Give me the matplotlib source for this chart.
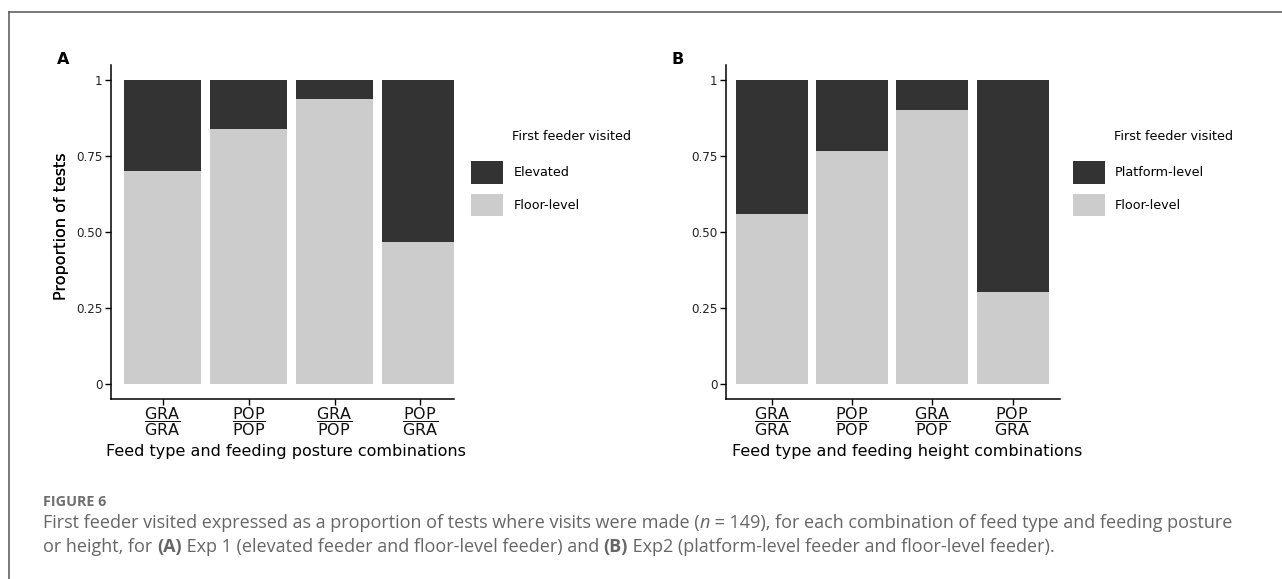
import matplotlib
matplotlib.use("Agg")
import matplotlib.pyplot as plt
from matplotlib.patches import Patch
from matplotlib.lines import Line2D
from matplotlib.text import Annotation

# ---------------- data ----------------
num_labels = ["GRA", "POP", "GRA", "POP"]
den_labels = ["GRA", "POP", "POP", "GRA"]
positions = [1, 2, 3, 4]

floor_A = [0.700, 0.838, 0.937, 0.468]
elevated_A = [0.300, 0.162, 0.063, 0.532]

floor_B = [0.559, 0.765, 0.900, 0.301]
platform_B = [0.441, 0.235, 0.100, 0.699]

ytick_vals = [0, 0.25, 0.50, 0.75, 1]
ytick_text = ["0", "0.25", "0.50", "0.75", "1"]

DARK = "#333333"
LIGHT = "#cccccc"

plt.rcParams["font.family"] = ["DejaVu Sans"]
plt.rcParams["mathtext.fontset"] = "dejavusans"

W, H = 1282, 579
fig = plt.figure(figsize=(W / 100, H / 100), dpi=100)


def fx(px):
    return px / W


def fy(py):
    return 1 - py / H


def make_panel(x0, x1, xlim, floor, top, top_name, xlabel, letter, letter_x,
               leg_x, xlabel_cx):
    y_top, y_bot = 64.8, 399.2
    ax = fig.add_axes([fx(x0), fy(y_bot), fx(x1 - x0), (y_bot - y_top) / H])
    ax.bar(positions, floor, width=0.9, color=LIGHT, linewidth=0)
    ax.bar(positions, top, width=0.9, bottom=floor, color=DARK, linewidth=0)
    ax.set_xlim(*xlim)
    ax.set_ylim(-0.05, 1.05)
    for s in ["top", "right"]:
        ax.spines[s].set_visible(False)
    for s in ["left", "bottom"]:
        ax.spines[s].set_linewidth(1.1)
        ax.spines[s].set_color("black")
    ax.set_yticks(ytick_vals)
    ax.set_yticklabels(ytick_text)
    ax.set_xticks(positions)
    ax.set_xticklabels([r"$\dfrac{\mathregular{%s}}{\mathregular{%s}}$" % (n, d)
                        for n, d in zip(num_labels, den_labels)])
    ax.tick_params(axis="y", length=4, width=1, pad=2, labelsize=8.6,
                   labelcolor="#222222")
    ax.tick_params(axis="x", length=4, width=1, pad=0, labelsize=11.5,
                   labelcolor="#111111")
    ax.set_ylabel("Proportion of tests", fontsize=11.5)
    ax.yaxis.set_label_coords((69 - x0) / (x1 - x0), 0.516)
    ax.set_xlabel(xlabel, fontsize=11.5)
    ax.xaxis.set_label_coords((xlabel_cx - x0) / (x1 - x0), -0.134)

    fig.text(fx(letter_x), fy(60), letter, fontsize=11.5, fontweight="bold",
             ha="left", va="center")

    handles = [Patch(facecolor=DARK, edgecolor="none"),
               Patch(facecolor=LIGHT, edgecolor="none")]
    fs = 9.2
    em = fs * 100 / 72
    fig.legend(handles, [top_name, "Floor-level"], loc="upper left",
               bbox_to_anchor=(fx(leg_x), fy(161)), frameon=False,
               borderpad=0, borderaxespad=0, fontsize=fs,
               handlelength=32 / em, handleheight=30 / em,
               labelspacing=10 / em, handletextpad=10 / em)
    fig.text(fx(leg_x + 41), fy(137), "First feeder visited", fontsize=fs,
             ha="left", va="center")
    return ax


make_panel(111, 454, (0.4, 4.39), floor_A, elevated_A, "Elevated",
           "Feed type and feeding posture combinations", "A", 57, 471.4, 286)
make_panel(726, 1060, (0.43, 4.59), floor_B, platform_B, "Platform-level",
           "Feed type and feeding height combinations", "B", 671.5, 1072.8, 907.5)

# ---------------- frame ----------------
fig.add_artist(Line2D([fx(8.5), fx(8.5)], [fy(12), 0], color="#555555",
                      linewidth=1.1, transform=fig.transFigure))
fig.add_artist(Line2D([fx(8.5), 1], [fy(12), fy(12)], color="#555555",
                      linewidth=1.1, transform=fig.transFigure))

# ---------------- caption ----------------
CAP = "#666666"
cap_font = ["Open Sans", "DejaVu Sans"]
cap_size = 13.0
fig.text(fx(43), fy(502), "FIGURE 6", fontsize=10.4, fontweight="bold",
         color="#6f6f6f", family=cap_font, ha="left", va="center")

line1 = [("First feeder visited expressed as a proportion of tests where visits were made (", {}),
         ("n", {"style": "italic"}),
         (" = 149), for each combination of feed type and feeding posture", {})]
line2 = [("or height, for ", {}),
         ("(A)", {"fontweight": "bold"}),
         (" Exp 1 (elevated feeder and floor-level feeder) and ", {}),
         ("(B)", {"fontweight": "bold"}),
         (" Exp2 (platform-level feeder and floor-level feeder).", {})]


def draw_chain(pieces, x, y):
    prev = None
    for txt, kw in pieces:
        style = dict(fontsize=cap_size, color=CAP, family=cap_font)
        style.update(kw)
        if prev is None:
            prev = fig.text(fx(x), fy(y), txt, ha="left", va="bottom", **style)
        else:
            a = Annotation(txt, xy=(1, 0), xycoords=prev,
                           ha="left", va="bottom", **style)
            fig.add_artist(a)
            prev = a


draw_chain(line1, 43, 532)
draw_chain(line2, 43, 556)

fig.savefig("out.png", dpi=100)
